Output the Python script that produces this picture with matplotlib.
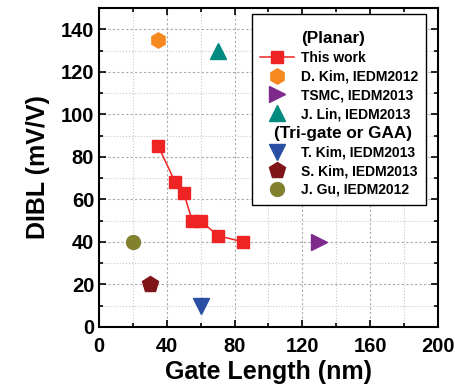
import matplotlib
matplotlib.use('Agg')
import matplotlib.pyplot as plt
from matplotlib.lines import Line2D
from matplotlib.ticker import MultipleLocator
from matplotlib.transforms import Bbox
from matplotlib.offsetbox import TextArea

plt.rcParams['font.family'] = ['Liberation Sans', 'DejaVu Sans']
plt.rcParams['font.weight'] = 'bold'

# this work
gl_work = [35, 45, 50, 55, 60, 70, 85]
dibl_work = [85, 68, 63, 50, 50, 43, 40]

# other reports: (label, x, y, marker, colour, size)
others = [
    ("D. Kim, IEDM2012", 35, 135, 'h', '#f5881f', 11),
    ("TSMC, IEDM2013", 130, 40, '>', '#7d2a8c', 11),
    ("J. Lin, IEDM2013", 70, 130, '^', '#008a80', 12),
    ("T. Kim, IEDM2013", 60, 10, 'v', '#2b50a3', 12),
    ("S. Kim, IEDM2013", 30, 20, 'p', '#7e1518', 12),
    ("J. Gu, IEDM2012", 20, 40, 'o', '#82812f', 10),
]

fig = plt.figure(figsize=(4.56, 3.86), dpi=100)
ax = fig.add_axes([99/456, 1-327/386, (438-99)/456, (327-8)/386])

ax.plot(gl_work, dibl_work, '-s', color='#ee2424', ms=9, lw=1.1, zorder=3)
for lab, x, y, m, c, s in others:
    ax.plot([x], [y], m, color=c, ms=s, zorder=3)

ax.set_xlim(0, 200)
ax.set_ylim(0, 150)
ax.xaxis.set_major_locator(MultipleLocator(40))
ax.xaxis.set_minor_locator(MultipleLocator(20))
ax.yaxis.set_major_locator(MultipleLocator(20))
ax.yaxis.set_minor_locator(MultipleLocator(10))
ax.tick_params(which='both', direction='in', top=True, right=True, width=1.2,
               labelsize=14.5)
ax.tick_params(which='major', length=5)
ax.tick_params(which='minor', length=3)
ax.tick_params(axis='x', which='major', pad=7)
ax.grid(which='major', ls=(0, (2, 2)), color='#aaaaaa', lw=0.8)
ax.grid(which='minor', ls=':', color='#c8c8c8', lw=0.8)
ax.set_axisbelow(True)
for sp in ax.spines.values():
    sp.set_linewidth(1.5)

ax.set_xlabel('Gate Length (nm)', fontsize=18, fontweight='bold', labelpad=3)
ax.set_ylabel('DIBL (mV/V)', fontsize=18, fontweight='bold', labelpad=8)

blank = Line2D([], [], ls='none', marker='none')
handles = [blank,
           Line2D([], [], ls='-', marker='s', color='#ee2424', ms=9, lw=1.1)]
labels = ['(Planar)', 'This work']
for i, (lab, x, y, m, c, s) in enumerate(others):
    if i == 3:
        handles.append(blank)
        labels.append('(Tri-gate or GAA)')
    handles.append(Line2D([], [], ls='none', marker=m, color=c, ms=s))
    labels.append(lab)

# tiny blank title gives the extra room above "(Planar)"
leg = ax.legend(handles, labels, loc='upper right',
                bbox_to_anchor=(0.965, 0.981), borderaxespad=0,
                fontsize=10, frameon=True, title=' ', title_fontsize=3,
                fancybox=False, edgecolor='black', framealpha=1,
                handlelength=2.4, handletextpad=0.5, labelspacing=0.34,
                borderpad=0.6)
leg.get_frame().set_linewidth(1.0)
texts = leg.get_texts()
texts[0].set_fontsize(12.3)
texts[5].set_fontsize(12.3)

# pull the second group header left, without widening the box
shift = 27
texts[5].set_x(-shift)
for col in leg._legend_handle_box.get_children():
    for row in col.get_children():
        for ch in row.get_children():
            if isinstance(ch, TextArea) and ch._text is texts[5]:
                orig = ch.get_bbox

                def narrow(renderer, _o=orig):
                    b = _o(renderer)
                    return Bbox.from_bounds(b.x0, b.y0, b.width - shift, b.height)
                ch.get_bbox = narrow

fig.savefig('out.png', dpi=100)
